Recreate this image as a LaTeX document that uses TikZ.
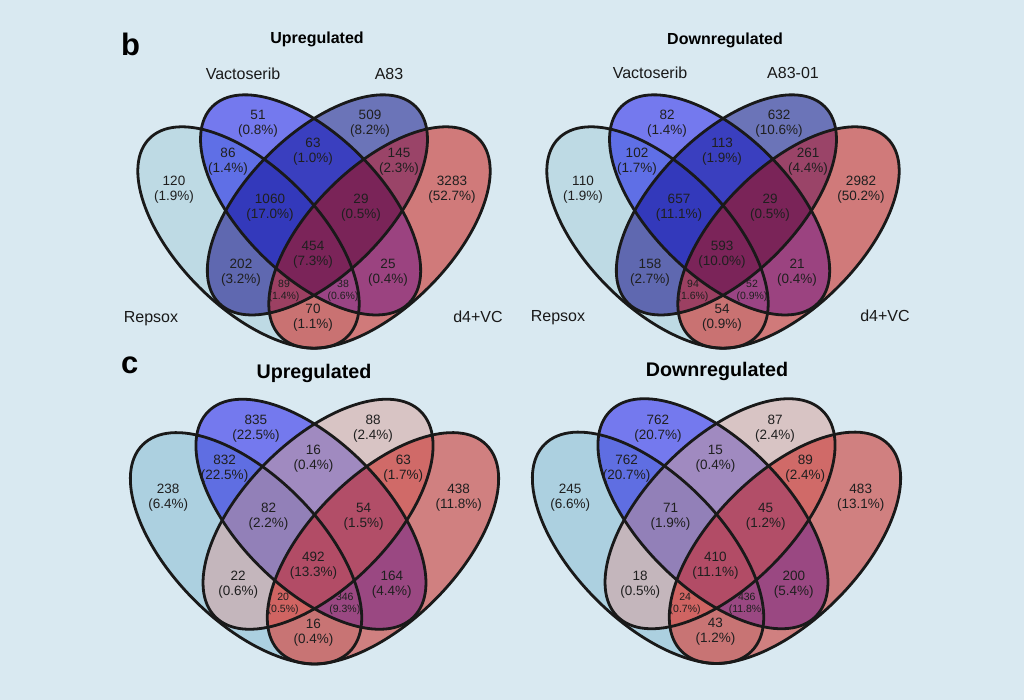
\documentclass[tikz,border=0pt]{standalone}
\usepackage{fontspec}
\setmainfont{Liberation Sans}
\usepackage{tikz}
\definecolor{bgblue}{HTML}{D9E9F1}
% colour scheme b (one colour per exact region)
\definecolor{bR}{HTML}{BEDAE4}   \definecolor{bV}{HTML}{7479EE}
\definecolor{bA}{HTML}{6B74B8}   \definecolor{bD}{HTML}{D07A7A}
\definecolor{bRV}{HTML}{5F6FE6}  \definecolor{bRA}{HTML}{5F68B0}
\definecolor{bRD}{HTML}{C97272}  \definecolor{bVA}{HTML}{3A3FBF}
\definecolor{bVD}{HTML}{9B4380}  \definecolor{bAD}{HTML}{9A4468}
\definecolor{bRVA}{HTML}{3339BB} \definecolor{bRVD}{HTML}{9A4484}
\definecolor{bRAD}{HTML}{9C4062} \definecolor{bVAD}{HTML}{7A2458}
\definecolor{bRVAD}{HTML}{7B2459}
% colour scheme c
\definecolor{cR}{HTML}{ACD0E0}   \definecolor{cV}{HTML}{7479EE}
\definecolor{cA}{HTML}{D8C4C4}   \definecolor{cD}{HTML}{D08080}
\definecolor{cRV}{HTML}{5F6EE2}  \definecolor{cRA}{HTML}{C4B6BC}
\definecolor{cRD}{HTML}{C87474}  \definecolor{cVA}{HTML}{A08AC0}
\definecolor{cVD}{HTML}{9A4882}  \definecolor{cAD}{HTML}{D06A68}
\definecolor{cRVA}{HTML}{9280B8} \definecolor{cRVD}{HTML}{9A4882}
\definecolor{cRAD}{HTML}{D06462} \definecolor{cVAD}{HTML}{B24E68}
\definecolor{cRVAD}{HTML}{B24C66}
\tikzset{
  vennline/.style={line width=2.8pt,draw=black!90},
  num/.style={font=\fontsize{13.5}{15}\selectfont,align=center,inner sep=0pt,text=black!88},
  numsmall/.style={font=\fontsize{10.5}{12}\selectfont,align=center,inner sep=0pt,text=black!88},
  setlabel/.style={font=\fontsize{16}{18}\selectfont,anchor=base,inner sep=0pt,text=black!90},
  titleb/.style={font=\fontsize{16}{18}\selectfont\bfseries,anchor=base,inner sep=0pt},
  titlec/.style={font=\fontsize{19.7}{22}\selectfont\bfseries,anchor=base,inner sep=0pt},
  panel/.style={font=\fontsize{31}{34}\selectfont\bfseries,anchor=base west,inner sep=0pt}
}
% the four ellipses, local coordinates (origin = centre of the diagram)
\newcommand{\ellR}{(-65.5,29) circle [x radius=140,y radius=70,rotate=-45]}
\newcommand{\ellV}{(-3.4,-3.6) circle [x radius=139,y radius=70,rotate=-45]}
\newcommand{\ellA}{(3.4,-3.6) circle [x radius=139,y radius=70,rotate=45]}
\newcommand{\ellD}{(65.5,29) circle [x radius=140,y radius=70,rotate=45]}
\newcommand{\regfill}[2]{\begin{scope}#1\fill[#2] (-260,-260) rectangle (260,260);\end{scope}}
% paint by subset size, larger intersections on top
\newcommand{\fourvenn}[1]{%
  \fill[#1R] \ellR; \fill[#1V] \ellV; \fill[#1A] \ellA; \fill[#1D] \ellD;
  \regfill{\clip\ellR;\clip\ellV;}{#1RV}
  \regfill{\clip\ellR;\clip\ellA;}{#1RA}
  \regfill{\clip\ellR;\clip\ellD;}{#1RD}
  \regfill{\clip\ellV;\clip\ellA;}{#1VA}
  \regfill{\clip\ellV;\clip\ellD;}{#1VD}
  \regfill{\clip\ellA;\clip\ellD;}{#1AD}
  \regfill{\clip\ellR;\clip\ellV;\clip\ellA;}{#1RVA}
  \regfill{\clip\ellR;\clip\ellV;\clip\ellD;}{#1RVD}
  \regfill{\clip\ellR;\clip\ellA;\clip\ellD;}{#1RAD}
  \regfill{\clip\ellV;\clip\ellA;\clip\ellD;}{#1VAD}
  \regfill{\clip\ellR;\clip\ellV;\clip\ellA;\clip\ellD;}{#1RVAD}
  \draw[vennline] \ellR; \draw[vennline] \ellV;
  \draw[vennline] \ellA; \draw[vennline] \ellD;
  \coordinate (s-r) at (-140,-19);   \coordinate (s-v) at (-56,-85);
  \coordinate (s-a) at (56,-85);     \coordinate (s-d) at (138,-19);
  \coordinate (s-rv) at (-86,-47);   \coordinate (s-va) at (-1,-56.5);
  \coordinate (s-ad) at (85,-47);    \coordinate (s-rva) at (-44,-1);
  \coordinate (s-vad) at (47,-1);    \coordinate (s-all) at (-1,46);
  \coordinate (s-ra) at (-73,64);    \coordinate (s-vd) at (74,64);
  \coordinate (s-rad) at (-30,82.5); \coordinate (s-rvd) at (29,82.5);
  \coordinate (s-rd) at (-1,109.5);}
\newcommand{\regionlabels}[3]{%
  \foreach \k/\cnt/\pct in {#2} \node[num] (#1-\k) at (s-\k) {\cnt\\(\pct\%)};
  \foreach \k/\cnt/\pct in {#3} \node[numsmall] (#1-\k) at (s-\k) {\cnt\\(\pct\%)};}

\begin{document}
\begin{tikzpicture}[x=1pt,y=-1pt]
\useasboundingbox (0,0) rectangle (1024,700);
\fill[bgblue] (0,0) rectangle (1024,700);

% panel b, upregulated
\begin{scope}[shift={(314,208.5)}]
  \fourvenn{b}
  \regionlabels{bu}{r/120/1.9, v/51/0.8, a/509/8.2, d/3283/52.7, rv/86/1.4, va/63/1.0,
    ad/145/2.3, rva/1060/17.0, vad/29/0.5, all/454/7.3, ra/202/3.2, vd/25/0.4, rd/70/1.1}
    {rad/89/1.4, rvd/38/0.6}
\end{scope}
% panel b, downregulated
\begin{scope}[shift={(723,208.5)}]
  \fourvenn{b}
  \regionlabels{bd}{r/110/1.9, v/82/1.4, a/632/10.6, d/2982/50.2, rv/102/1.7, va/113/1.9,
    ad/261/4.4, rva/657/11.1, vad/29/0.5, all/593/10.0, ra/158/2.7, vd/21/0.4, rd/54/0.9}
    {rad/94/1.6, rvd/52/0.9}
\end{scope}
% panel c, upregulated
\begin{scope}[shift={(314.5,518)},scale=1.045]
  \fourvenn{c}
  \regionlabels{cu}{r/238/6.4, v/835/22.5, a/88/2.4, d/438/11.8, rv/832/22.5, va/16/0.4,
    ad/63/1.7, rva/82/2.2, vad/54/1.5, all/492/13.3, ra/22/0.6, vd/164/4.4, rd/16/0.4}
    {rad/20/0.5, rvd/346/9.3}
\end{scope}
% panel c, downregulated
\begin{scope}[shift={(716.5,517.5)},scale=1.045]
  \fourvenn{c}
  \regionlabels{cd}{r/245/6.6, v/762/20.7, a/87/2.4, d/483/13.1, rv/762/20.7, va/15/0.4,
    ad/89/2.4, rva/71/1.9, vad/45/1.2, all/410/11.1, ra/18/0.5, vd/200/5.4, rd/43/1.2}
    {rad/24/0.7, rvd/436/11.8}
\end{scope}

% titles and set names
\node[panel] (pb) at (121,56) {b};
\node[panel] (pc) at (121,373) {c};
\node[titleb] (t-bu) at (317,44) {Upregulated};
\node[titleb] (t-bd) at (725,45) {Downregulated};
\node[titlec] (t-cu) at (314,378) {Upregulated};
\node[titlec] (t-cd) at (717,376) {Downregulated};
\node[setlabel] (bu-vac) at (243,80) {Vactoserib};
\node[setlabel] (bu-a83) at (389,80) {A83};
\node[setlabel] (bu-rep) at (151,322) {Repsox};
\node[setlabel] (bu-d4) at (478,322) {d4+VC};
\node[setlabel] (bd-vac) at (650,79) {Vactoserib};
\node[setlabel] (bd-a83) at (793,79) {A83-01};
\node[setlabel] (bd-rep) at (558,321) {Repsox};
\node[setlabel] (bd-d4) at (885,321) {d4+VC};
\end{tikzpicture}
\end{document}
